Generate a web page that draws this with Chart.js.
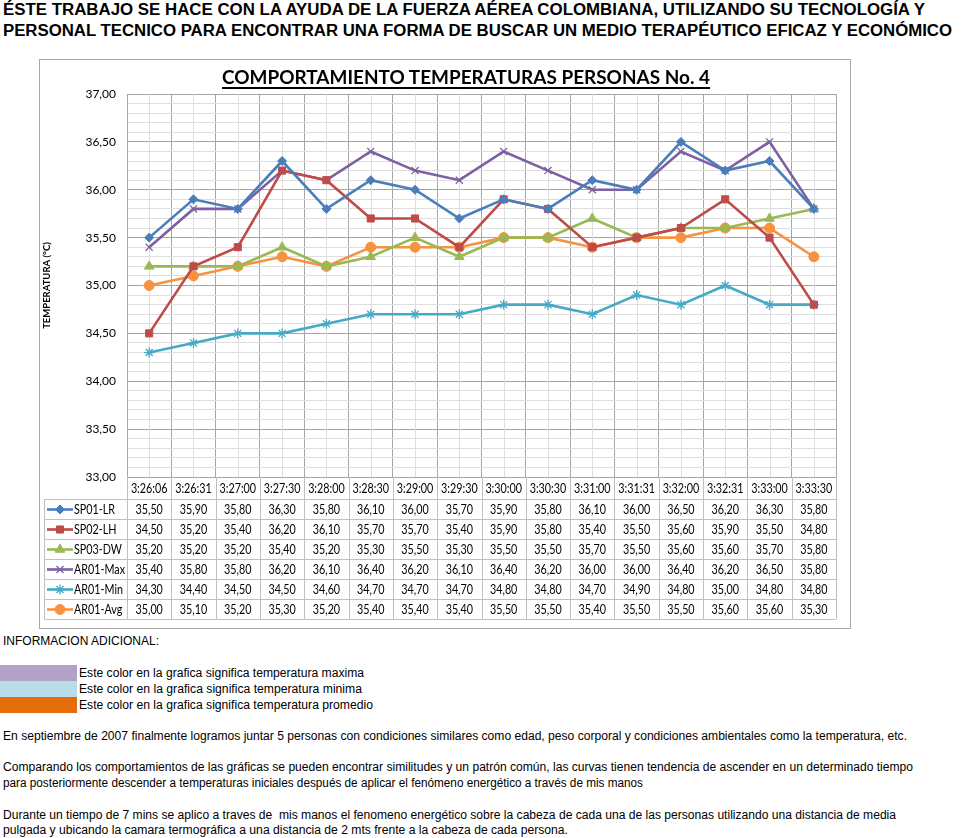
<!DOCTYPE html>
<html><head><meta charset="utf-8">
<script src="https://cdn.jsdelivr.net/npm/chart.js@4.4.1/dist/chart.umd.min.js"></script>
<style>
body{margin:0;width:980px;height:838px;position:relative;background:#fff;overflow:hidden;font-family:"Liberation Sans",Arial,sans-serif;color:#000;}
.t{position:absolute;white-space:nowrap;transform-origin:0 50%;}
.h{font-weight:bold;font-size:16px;line-height:20px;}
.p{font-size:12px;line-height:16px;}
#frame{position:absolute;left:39px;top:59px;width:810px;height:568px;border:1px solid #a6a6a6;}
#c{position:absolute;left:0;top:0;}
#title{font-family:Lato,sans-serif;font-weight:bold;font-size:19px;line-height:24px;text-decoration:underline;text-decoration-thickness:2px;text-underline-offset:3px;}
.box{position:absolute;left:0;width:77px;height:16px;}
</style></head>
<body>
<div class="t h" style="left:3px;top:0px" data-w="922">ÉSTE TRABAJO SE HACE CON LA AYUDA DE LA FUERZA AÉREA COLOMBIANA, UTILIZANDO SU TECNOLOGÍA Y</div>
<div class="t h" style="left:3px;top:21px" data-w="949">PERSONAL TECNICO PARA ENCONTRAR UNA FORMA DE BUSCAR UN MEDIO TERAPÉUTICO EFICAZ Y ECONÓMICO</div>
<div id="frame"><canvas id="c" width="810" height="568"></canvas></div>
<div class="t" id="title" style="left:222px;top:65px" data-w="488">COMPORTAMIENTO TEMPERATURAS PERSONAS No. 4</div>

<div class="t p" style="left:3px;top:633px" data-w="156">INFORMACION ADICIONAL:</div>
<div class="box" style="top:665px;background:#b3a2c7"></div>
<div class="box" style="top:681px;background:#b7dee8"></div>
<div class="box" style="top:697px;background:#e46c0a"></div>
<div class="t p" style="left:79px;top:665px" data-w="285">Este color en la grafica significa temperatura maxima</div>
<div class="t p" style="left:79px;top:681px" data-w="283">Este color en la grafica significa temperatura minima</div>
<div class="t p" style="left:79px;top:697px" data-w="294">Este color en la grafica significa temperatura promedio</div>
<div class="t p" style="left:3px;top:728px" data-w="904">En septiembre de 2007 finalmente logramos juntar 5 personas con condiciones similares como edad, peso corporal y condiciones ambientales como la temperatura, etc.</div>
<div class="t p" style="left:3px;top:759px" data-w="910">Comparando los comportamientos de las gráficas se pueden encontrar similitudes y un patrón común, las curvas tienen tendencia de ascender en un determinado tiempo</div>
<div class="t p" style="left:3px;top:775px" data-w="640">para posteriormente descender a temperaturas iniciales después de aplicar el fenómeno energético a través de mis manos</div>
<div class="t p" style="left:3px;top:807px" data-w="893">Durante un tiempo de 7 mins se aplico a traves de&nbsp; mis manos el fenomeno energético sobre la cabeza de cada una de las personas utilizando una distancia de media</div>
<div class="t p" style="left:3px;top:822px" data-w="565">pulgada y ubicando la camara termográfica a una distancia de 2 mts frente a la cabeza de cada persona.</div>

<script>
// ---- data ----
const categories = ['3:26:06','3:26:31','3:27:00','3:27:30','3:28:00','3:28:30','3:29:00','3:29:30','3:30:00','3:30:30','3:31:00','3:31:31','3:32:00','3:32:31','3:33:00','3:33:30'];
const seriesNames = ['SP01-LR','SP02-LH','SP03-DW','AR01-Max','AR01-Min','AR01-Avg'];
const sp01LR  = [35.50,35.90,35.80,36.30,35.80,36.10,36.00,35.70,35.90,35.80,36.10,36.00,36.50,36.20,36.30,35.80];
const sp02LH  = [34.50,35.20,35.40,36.20,36.10,35.70,35.70,35.40,35.90,35.80,35.40,35.50,35.60,35.90,35.50,34.80];
const sp03DW  = [35.20,35.20,35.20,35.40,35.20,35.30,35.50,35.30,35.50,35.50,35.70,35.50,35.60,35.60,35.70,35.80];
const ar01Max = [35.40,35.80,35.80,36.20,36.10,36.40,36.20,36.10,36.40,36.20,36.00,36.00,36.40,36.20,36.50,35.80];
const ar01Min = [34.30,34.40,34.50,34.50,34.60,34.70,34.70,34.70,34.80,34.80,34.70,34.90,34.80,35.00,34.80,34.80];
const ar01Avg = [35.00,35.10,35.20,35.30,35.20,35.40,35.40,35.40,35.50,35.50,35.40,35.50,35.50,35.60,35.60,35.30];
const yMin = 33, yMax = 37, yMinorStep = 0.1;
const yAxisTitle = 'TEMPERATURA (°C)';

// ---- styles ----
const colors = ['#4a7ebb','#be4b48','#98b954','#7d60a0','#46aac5','#f69240'];
const pointStyles = ['rectRot','rect','triangle','crossRot','star','circle'];
const pointRadii = [4.5,5,5.5,5,5,5];
const pointBW = [1,1,1,1.3,1.3,1];
const values = [sp01LR, sp02LH, sp03DW, ar01Max, ar01Min, ar01Avg];
const fmt = v => v.toFixed(2).replace('.', ',');
const FONT = 'Lato, sans-serif';
const SQ = 0.86; // horizontal text compression for the data table

const datasets = values.map((d, i) => ({
  label: seriesNames[i], data: d,
  borderColor: colors[i], backgroundColor: colors[i],
  borderWidth: 2.6, tension: 0,
  pointStyle: pointStyles[i], pointRadius: pointRadii[i],
  pointBorderWidth: pointBW[i],
  pointBackgroundColor: colors[i], pointBorderColor: colors[i]
}));

const isMajor = v => Math.round(v * 10) % 5 === 0;

function sqText(ctx, s, x, y) {
  ctx.save(); ctx.translate(x, y); ctx.scale(SQ, 1); ctx.fillText(s, 0, 0); ctx.restore();
}

const tablePlugin = {
  id: 'tablePlugin',
  beforeDatasetsDraw(chart) {
    const {ctx, chartArea: a, scales: {x}} = chart;
    ctx.save();
    ctx.strokeStyle = '#dedede'; ctx.lineWidth = 1;
    for (let i = 0; i < categories.length; i++) {
      const px = Math.round(x.getPixelForValue(i)) + 0.5;
      ctx.beginPath(); ctx.moveTo(px, a.top); ctx.lineTo(px, a.bottom); ctx.stroke();
    }
    ctx.restore();
  },
  afterDraw(chart) {
    const {ctx, chartArea: a, scales: {x}} = chart;
    const n = categories.length;
    const cw = (a.right - a.left) / n;
    const headH = 22, rowH = 20;
    const top = a.bottom, rowsTop = top + headH, bottom = rowsTop + rowH * values.length;
    const legL = 4.5;
    ctx.save();
    ctx.strokeStyle = '#bfbfbf'; ctx.lineWidth = 1;
    for (let k = 0; k <= values.length; k++) {
      const y = Math.round(rowsTop + k * rowH) + 0.5;
      ctx.beginPath(); ctx.moveTo(legL, y); ctx.lineTo(a.right, y); ctx.stroke();
    }
    for (let i = 0; i <= n; i++) {
      const px = Math.round(a.left + i * cw) + 0.5;
      ctx.beginPath(); ctx.moveTo(px, top); ctx.lineTo(px, bottom); ctx.stroke();
    }
    ctx.beginPath(); ctx.moveTo(legL, rowsTop); ctx.lineTo(legL, bottom); ctx.stroke();
    ctx.fillStyle = '#000';
    ctx.font = '12.5px ' + FONT;
    ctx.textAlign = 'center'; ctx.textBaseline = 'middle';
    categories.forEach((c, i) => sqText(ctx, c, x.getPixelForValue(i), top + headH / 2 + 1));
    values.forEach((d, r) => {
      const cy = rowsTop + r * rowH + rowH / 2 + 0.5;
      d.forEach((v, i) => sqText(ctx, fmt(v), x.getPixelForValue(i), cy));
      ctx.save();
      ctx.strokeStyle = colors[r]; ctx.fillStyle = colors[r]; ctx.lineWidth = 2.6;
      ctx.beginPath(); ctx.moveTo(7, cy); ctx.lineTo(33, cy); ctx.stroke();
      ctx.lineWidth = pointBW[r];
      Chart.helpers.drawPoint(ctx, {pointStyle: pointStyles[r], radius: pointRadii[r], borderWidth: pointBW[r], rotation: 0}, 20, cy);
      ctx.restore();
      ctx.textAlign = 'left';
      sqText(ctx, seriesNames[r], 34, cy);
      ctx.textAlign = 'center';
    });
    ctx.restore();
  }
};

new Chart(document.getElementById('c'), {
  type: 'line',
  data: {labels: categories, datasets},
  options: {
    responsive: false, animation: false, devicePixelRatio: 1,
    layout: {padding: {top: 34, right: 14, left: 0, bottom: 0}},
    plugins: {legend: {display: false}, tooltip: {enabled: false}, title: {display: false}},
    scales: {
      x: {
        type: 'category', offset: true,
        grid: {offset: true, color: '#a6a6a6', drawTicks: false},
        border: {color: '#a6a6a6'},
        ticks: {display: false},
        afterFit: s => { s.height = 151; }
      },
      y: {
        min: yMin, max: yMax,
        grid: {color: c => isMajor(c.tick.value) ? '#a6a6a6' : '#dedede', drawTicks: false},
        border: {color: '#a6a6a6'},
        ticks: {stepSize: yMinorStep, autoSkip: false, padding: 11, color: '#000',
          font: {family: FONT, size: 12},
          callback: v => isMajor(v) ? fmt(v) : ''},
        title: {display: true, text: yAxisTitle, color: '#000', font: {family: FONT, size: 9.5, weight: 'bold'}, padding: {top: 1, bottom: 0}},
        afterFit: s => { s.width = 87; }
      }
    }
  },
  plugins: [tablePlugin]
});

function fit() {
  document.querySelectorAll('.t[data-w]').forEach(el => {
    el.style.transform = 'none';
    const w = el.getBoundingClientRect().width;
    el.style.transform = 'scaleX(' + (parseFloat(el.dataset.w) / w) + ')';
  });
}
fit();
if (document.fonts && document.fonts.ready) document.fonts.ready.then(fit);
</script>
</body></html>
